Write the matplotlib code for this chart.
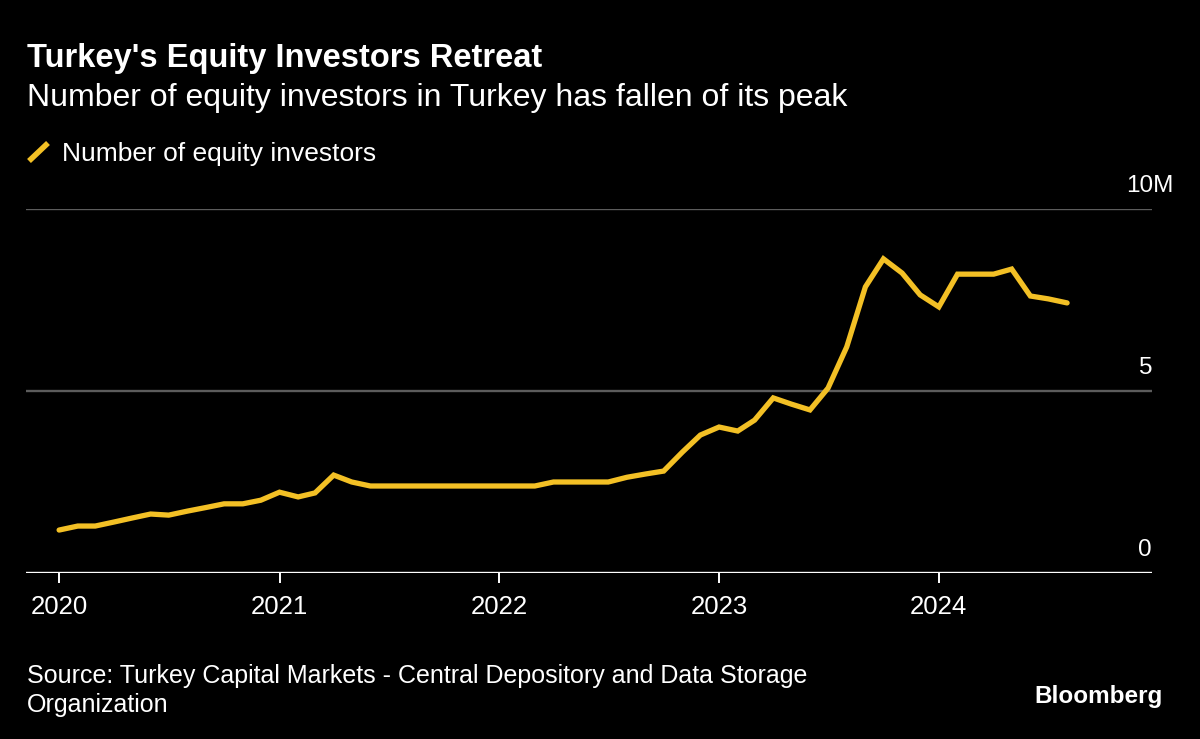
import matplotlib

matplotlib.use("Agg")
import matplotlib.pyplot as plt  # noqa: E402
import matplotlib.transforms as mtransforms  # noqa: E402
import pandas as pd  # noqa: E402

# monthly values, millions of investors
months = pd.date_range("2020-01-01", "2024-08-01", freq="MS")
investors = [
    1.18, 1.29, 1.29, 1.40, 1.51, 1.62, 1.59, 1.70, 1.80, 1.90, 1.90, 2.00,  # 2020
    2.22, 2.09, 2.20, 2.69, 2.50, 2.39, 2.39, 2.39, 2.39, 2.39, 2.39, 2.39,  # 2021
    2.39, 2.39, 2.39, 2.50, 2.50, 2.50, 2.50, 2.63, 2.72, 2.80, 3.32, 3.79,  # 2022
    4.01, 3.90, 4.20, 4.81, 4.64, 4.48, 5.08, 6.21, 7.86, 8.63, 8.24, 7.64,  # 2023
    7.31, 8.21, 8.21, 8.21, 8.35, 7.61, 7.53, 7.42,                          # 2024
]
year_ticks = pd.to_datetime(["2020-01-01", "2021-01-01", "2022-01-01", "2023-01-01", "2024-01-01"])
year_labels = ["2020", "2021", "2022", "2023", "2024"]
y_gridlines = [5, 10]
y_labels = [(0, "0"), (5, "5"), (10, "10M")]

YELLOW = "#F3C025"
BG = "#000000"
W, H = 1200, 739

plt.rcParams["font.family"] = ["Liberation Sans", "DejaVu Sans"]


def fx(px: float) -> float:
    return px / W


def fy(py: float) -> float:
    return 1 - py / H


fig = plt.figure(figsize=(12, 7.39), dpi=100, facecolor=BG)
ax = fig.add_axes([fx(26), fy(573), (1152 - 26) / W, 364 / H])
ax.set_facecolor(BG)

ax.plot(months, investors, color=YELLOW, linewidth=3.8, solid_joinstyle="miter",
        solid_capstyle="round", zorder=3)

for g in y_gridlines:
    ax.axhline(g, color="#5c5c5c", linewidth=1.7, zorder=1)
ax.axhline(0, color="white", linewidth=1.7, zorder=2)

ax.set_ylim(0, 10)
ax.set_xlim(pd.Timestamp("2019-11-07"), pd.Timestamp("2024-12-20"))
ax.set_yticks([])
ax.set_xticks(year_ticks)
ax.set_xticklabels(year_labels)
ax.tick_params(axis="x", colors="white", length=7.5, width=1.4, pad=8, labelsize=18.5,
               direction="out")
for side in ax.spines.values():
    side.set_visible(False)

# right-hand value labels sit above their gridlines ("10" lines up with the others, "M" hangs)
lift = mtransforms.ScaledTranslation(0, 12 / 72, fig.dpi_scale_trans)
trans = mtransforms.blended_transform_factory(fig.transFigure, ax.transData) + lift
for val, text in y_labels:
    xr = fx(1173) if text.endswith("M") else fx(1152)
    ax.text(xr, val, text, transform=trans, ha="right", va="baseline",
            color="white", fontsize=17.5)

# titles and legend
fig.text(fx(27), fy(67), "Turkey's Equity Investors Retreat", color="white",
         fontsize=23.5, fontweight="bold", va="baseline", ha="left")
fig.text(fx(27), fy(106), "Number of equity investors in Turkey has fallen of its peak",
         color="white", fontsize=23, va="baseline", ha="left")
fig.add_artist(plt.Line2D([fx(29), fx(48)], [fy(161), fy(143)], color=YELLOW,
                          linewidth=4, solid_capstyle="butt", transform=fig.transFigure))
fig.text(fx(62), fy(161), "Number of equity investors", color="white",
         fontsize=19, va="baseline", ha="left")

# footer
fig.text(fx(27), fy(683), "Source: Turkey Capital Markets - Central Depository and Data Storage",
         color="white", fontsize=18, va="baseline", ha="left")
fig.text(fx(27), fy(712), "Organization", color="white", fontsize=18, va="baseline", ha="left")
fig.text(fx(1163), fy(703), "Bloomberg", color="white", fontsize=17.5,
         fontweight="bold", va="baseline", ha="right")

fig.savefig("out.png", dpi=100, facecolor=BG)
